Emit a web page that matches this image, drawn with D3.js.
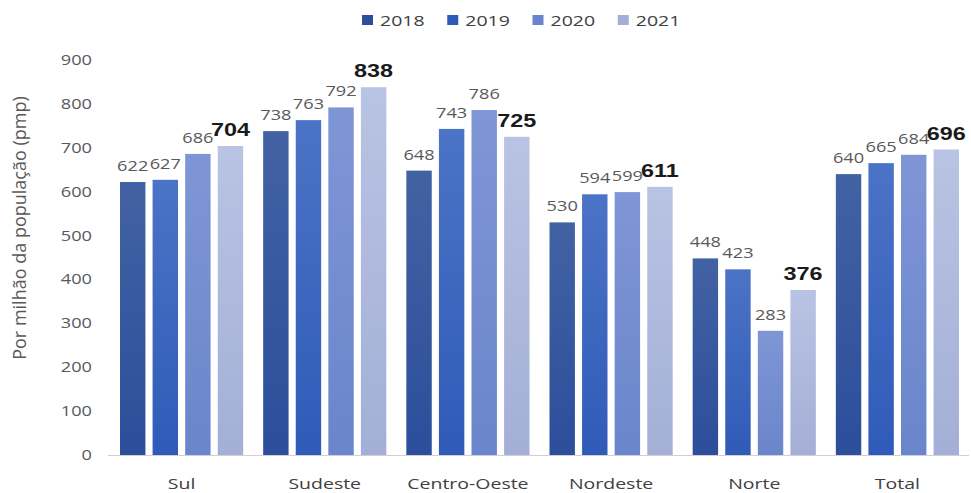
<!DOCTYPE html>
<html>
<head>
<meta charset="utf-8">
<script src="https://cdn.jsdelivr.net/npm/d3@7"></script>
<style>
  html, body { margin: 0; padding: 0; background: #ffffff; }
  svg { display: block; }
</style>
</head>
<body>
<svg id="chart" width="971" height="493"></svg>
<script>
const categories = ["Sul", "Sudeste", "Centro-Oeste", "Nordeste", "Norte", "Total"];
const years = ["2018", "2019", "2020", "2021"];
const values2018 = [622, 738, 648, 530, 448, 640];
const values2019 = [627, 763, 743, 594, 423, 665];
const values2020 = [686, 792, 786, 599, 283, 684];
const values2021 = [704, 838, 725, 611, 376, 696];
const yTicks = [0, 100, 200, 300, 400, 500, 600, 700, 800, 900];
const yTitle = "Por milhão da população (pmp)";

const series = [values2018, values2019, values2020, values2021];
const colorsTop = ["#4262a3", "#4b73c6", "#7f96d6", "#b9c3e3"];
const colorsBottom = ["#2c4e9b", "#2f5bb8", "#6a85cb", "#a3afd6"];
const K = 1.3; // horizontal stretch of the reference's text

function stretch(sel, k) {
  sel.each(function() {
    const t = d3.select(this);
    const x = +t.attr("x") || 0;
    t.attr("transform", `translate(${x},0) scale(${k},1) translate(${-x},0)`);
  });
}

const svg = d3.select("#chart");

const x0 = d3.scaleBand().domain(categories).range([110, 969]).padding(0);
const x1 = d3.scaleBand().domain(years).range([10, x0.bandwidth() - 10]).paddingInner(0.22).paddingOuter(0);
const y = d3.scaleLinear().domain([0, 900]).range([455, 60]);

// gradients
const defs = svg.append("defs");
years.forEach((yr, i) => {
  const g = defs.append("linearGradient").attr("id", "g" + yr)
    .attr("x1", 0).attr("y1", 0).attr("x2", 0).attr("y2", 1);
  g.append("stop").attr("offset", "0%").attr("stop-color", colorsTop[i]);
  g.append("stop").attr("offset", "100%").attr("stop-color", colorsBottom[i]);
});

// y axis (labels only)
const yAxis = d3.axisLeft(y).tickValues(yTicks).tickSize(0).tickPadding(0);
const gy = svg.append("g").attr("transform", "translate(92,0)").call(yAxis);
gy.select(".domain").remove();
gy.selectAll("text")
  .attr("x", 0)
  .attr("font-family", "'Open Sans', sans-serif")
  .attr("font-size", 14)
  .attr("fill", "#595959")
  .call(stretch, K);

// y title
svg.append("text")
  .attr("transform", "translate(26,228) rotate(-90)")
  .attr("text-anchor", "middle")
  .attr("font-family", "'Open Sans', sans-serif")
  .attr("font-size", 18)
  .attr("fill", "#595959")
  .text(yTitle);

// bars
const groups = svg.append("g").selectAll("g")
  .data(categories)
  .join("g")
  .attr("transform", d => `translate(${x0(d)},0)`);

groups.each(function(cat, ci) {
  const g = d3.select(this);
  years.forEach((yr, si) => {
    const v = series[si][ci];
    g.append("rect")
      .attr("x", x1(yr))
      .attr("y", y(v))
      .attr("width", x1.bandwidth())
      .attr("height", y(0) - y(v))
      .attr("fill", `url(#g${yr})`);
  });
  years.forEach((yr, si) => {
    const v = series[si][ci];
    const last = si === years.length - 1;
    g.append("text")
      .attr("x", x1(yr) + x1.bandwidth() / 2)
      .attr("y", y(v) - (last ? 10 : 11))
      .attr("text-anchor", "middle")
      .attr("font-family", last ? "'Liberation Sans', Arial, sans-serif" : "'Open Sans', sans-serif")
      .attr("font-size", last ? 18 : 14)
      .attr("font-weight", last ? "bold" : "normal")
      .attr("fill", last ? "#1a1a1a" : "#595959")
      .text(v)
      .call(stretch, K);
  });
});

// x axis
const xAxis = d3.axisBottom(x0).tickSize(0).tickPadding(0);
const gx = svg.append("g").attr("transform", "translate(0,455)").call(xAxis);
gx.select(".domain").remove();
svg.append("line")
  .attr("x1", 108).attr("x2", 969)
  .attr("y1", y(0) + 0.5).attr("y2", y(0) + 0.5)
  .attr("stroke", "#d0d0d0").attr("stroke-width", 1);
gx.selectAll("text")
  .attr("x", 0)
  .attr("y", 34)
  .attr("dy", 0)
  .attr("font-family", "'Open Sans', sans-serif")
  .attr("font-size", 15)
  .attr("fill", "#404040")
  .call(stretch, K);

// legend
const legendX = d3.scaleBand().domain(years).range([362, 703]);
const leg = svg.append("g").selectAll("g")
  .data(years)
  .join("g")
  .attr("transform", d => `translate(${legendX(d)},20)`);
leg.append("rect")
  .attr("x", 0).attr("y", -5)
  .attr("width", 11).attr("height", 10)
  .attr("fill", (d, i) => colorsBottom[i]);
leg.append("text")
  .attr("x", 18).attr("y", 5.5)
  .attr("font-family", "'Open Sans', sans-serif")
  .attr("font-size", 15)
  .attr("fill", "#404040")
  .text(d => d)
  .call(stretch, K);
</script>
</body>
</html>
